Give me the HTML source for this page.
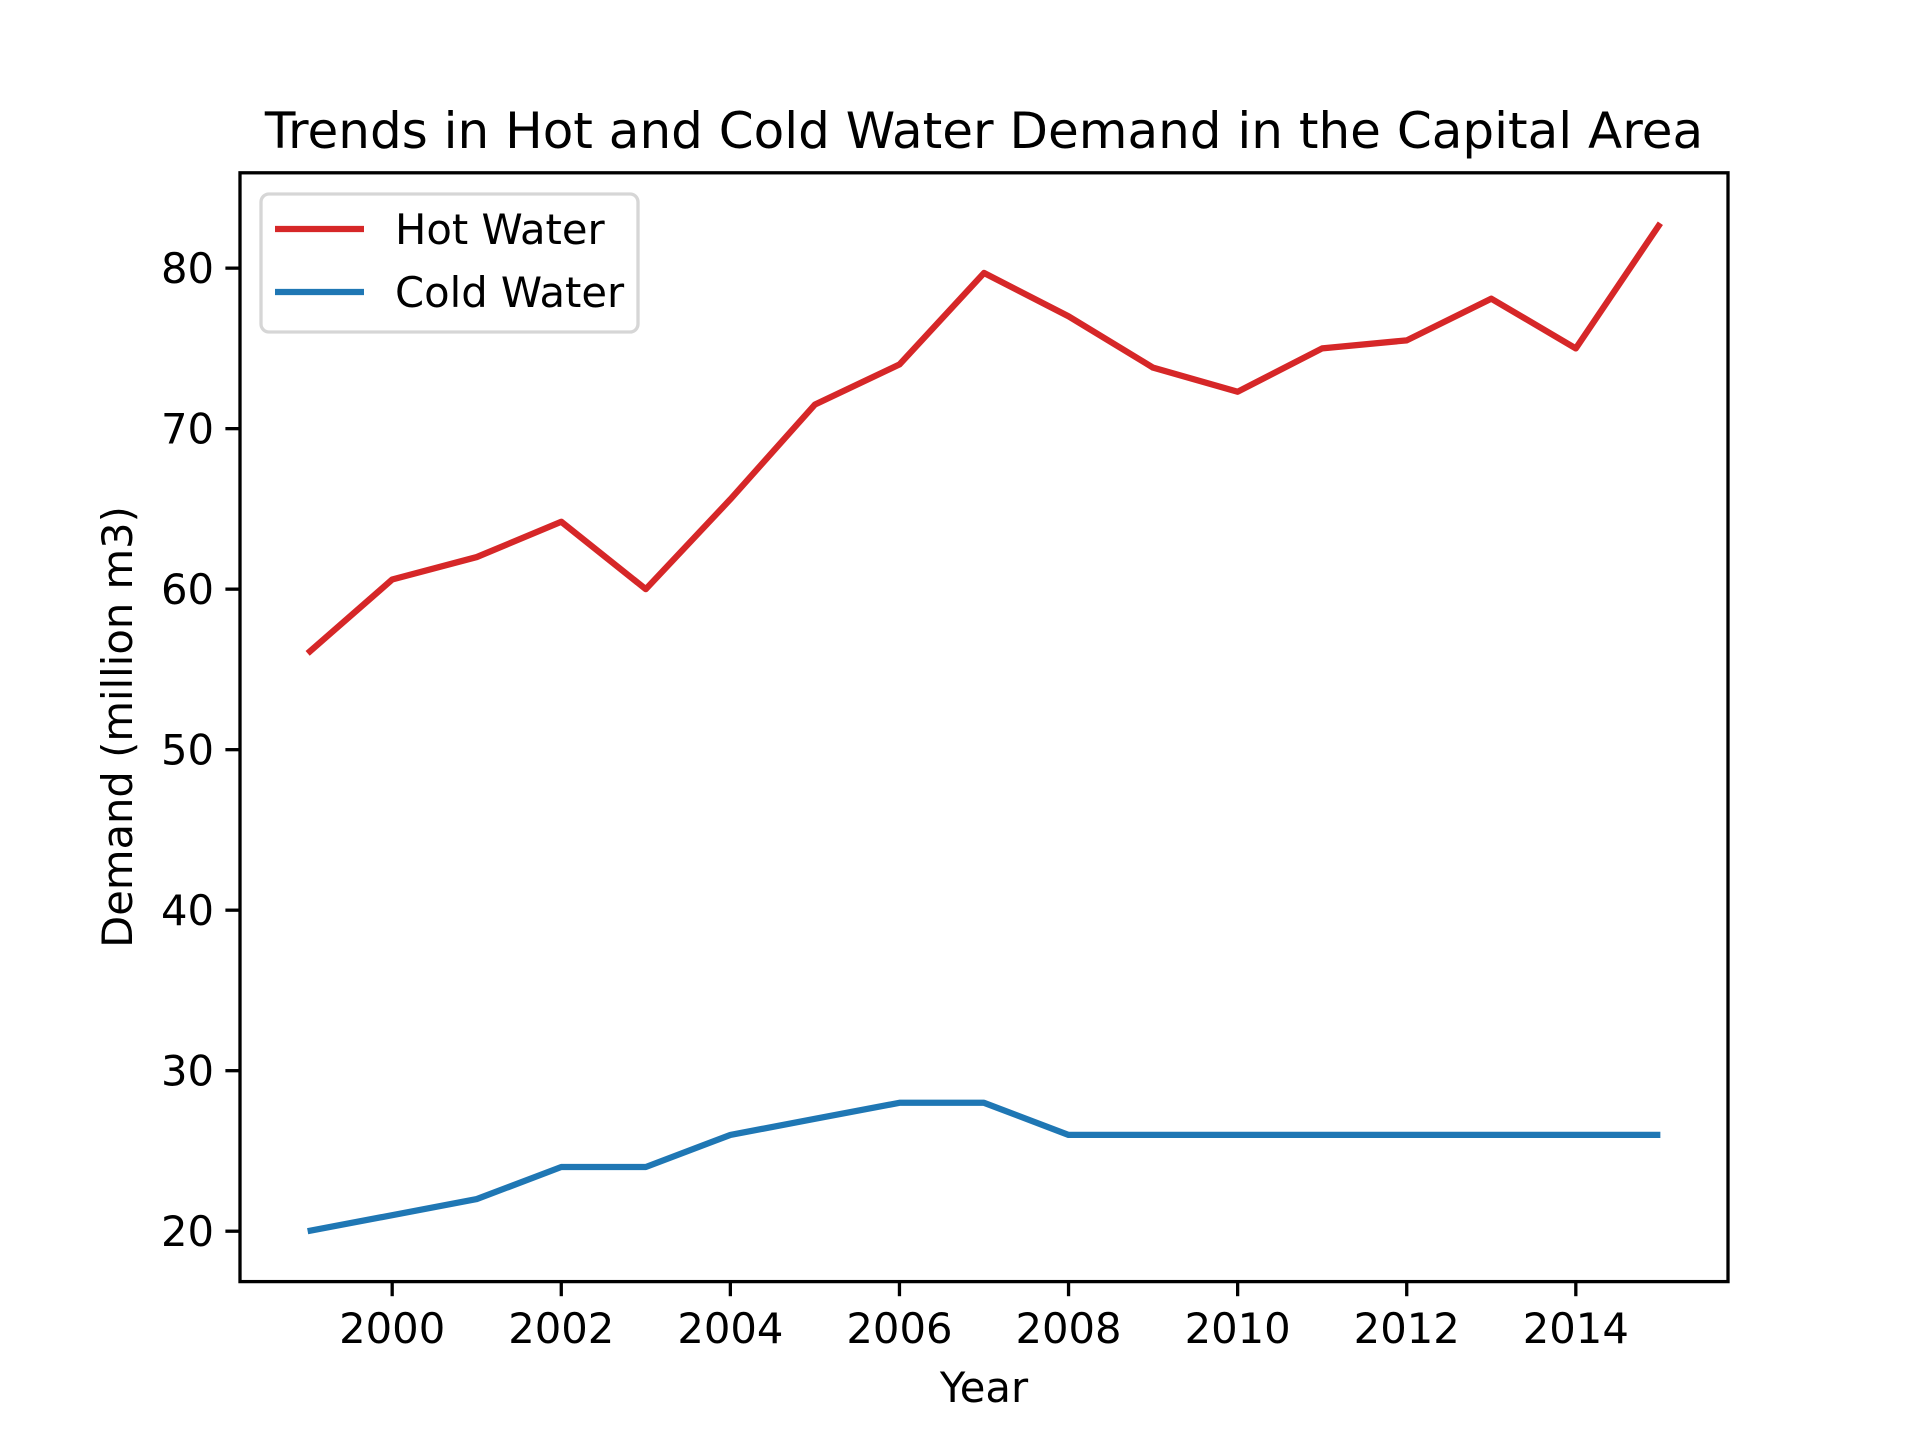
<!DOCTYPE html>
<html><head><meta charset="utf-8"><style>
html,body{margin:0;padding:0;background:#fff;}
svg{display:block;font-family:"DejaVu Sans","Liberation Sans",sans-serif;}
</style></head><body>
<svg id="chart" width="1920" height="1440" viewBox="0 0 1920 1440" xmlns="http://www.w3.org/2000/svg">
<rect width="1920" height="1440" fill="#fff"/>
<text x="984" y="148" font-size="50" text-anchor="middle">Trends in Hot and Cold Water Demand in the Capital Area</text>
<g id="grid"></g>
<g id="series"></g>
<rect x="240" y="172.8" width="1488" height="1108.8" fill="none" stroke="#000" stroke-width="3.3"/>
<g id="axes"></g>
<text x="984" y="1402" font-size="41.7" text-anchor="middle">Year</text>
<text transform="translate(132,727) rotate(-90)" font-size="41.7" text-anchor="middle">Demand (million m3)</text>
<g>
<rect x="261" y="194" width="377" height="138" rx="8" fill="#fff" fill-opacity="0.8" stroke="#d6d6d6" stroke-width="3.3"/>
<line x1="275" y1="229" x2="364" y2="229" stroke="#d62728" stroke-width="6.25"/>
<text x="395" y="244" font-size="41.7">Hot Water</text>
<line x1="275" y1="292" x2="364" y2="292" stroke="#1f77b4" stroke-width="6.25"/>
<text x="395" y="307" font-size="41.7">Cold Water</text>
</g>
</svg>
<script>
const years = [1999,2000,2001,2002,2003,2004,2005,2006,2007,2008,2009,2010,2011,2012,2013,2014,2015];
const hotWater = [56,60.6,62,64.2,60,65.6,71.5,74,79.7,77,73.8,72.3,75,75.5,78.1,75,82.8];
const coldWater = [20,21,22,24,24,26,27,28,28,26,26,26,26,26,26,26,26];
const xTicks = [2000,2002,2004,2006,2008,2010,2012,2014];
const yTicks = [20,30,40,50,60,70,80];

const L=240,R=1728,T=172.8,B=1281.6;
const allY=hotWater.concat(coldWater);
const ymin=Math.min(...allY), ymax=Math.max(...allY);
const yPad=(ymax-ymin)*0.05;
const y0=ymin-yPad, y1=ymax+yPad;
const xmin=Math.min(...years), xmax=Math.max(...years);
const xPad=(xmax-xmin)*0.05;
const x0=xmin-xPad, x1=xmax+xPad;
const sx=v=>L+(v-x0)/(x1-x0)*(R-L);
const sy=v=>B-(v-y0)/(y1-y0)*(B-T);
const NS="http://www.w3.org/2000/svg";
const axes=document.getElementById('axes');
const series=document.getElementById('series');
function mk(tag,attrs){const e=document.createElementNS(NS,tag);for(const k in attrs)e.setAttribute(k,attrs[k]);return e;}

xTicks.forEach(t=>{
  const ln=mk('line',{x1:sx(t),x2:sx(t),y1:B,y2:B+14.6,stroke:'#000','stroke-width':3.3});
  
  
  axes.appendChild(ln);
  const tx=mk('text',{x:sx(t),y:1343,'font-size':41.7,'text-anchor':'middle'});
  
  
  tx.textContent=t;axes.appendChild(tx);
});
yTicks.forEach(t=>{
  const ln=mk('line',{x1:L-14.6,x2:L,y1:sy(t),y2:sy(t),stroke:'#000','stroke-width':3.3});
  
  
  axes.appendChild(ln);
  const tx=mk('text',{x:L-26,y:sy(t)+15,'font-size':41.7,'text-anchor':'end'});
  
  
  tx.textContent=t;axes.appendChild(tx);
});
function drawLine(vals,color,name){
  const pts=years.map((yr,i)=>sx(yr)+','+sy(vals[i])).join(' ');
  const pl=mk('polyline',{points:pts,fill:'none',stroke:color,'stroke-width':6.25,'stroke-linejoin':'round','stroke-linecap':'butt'});
  
  
  series.appendChild(pl);
}
drawLine(hotWater,'#d62728','hot-water-line');
drawLine(coldWater,'#1f77b4','cold-water-line');
</script>
</body></html>
